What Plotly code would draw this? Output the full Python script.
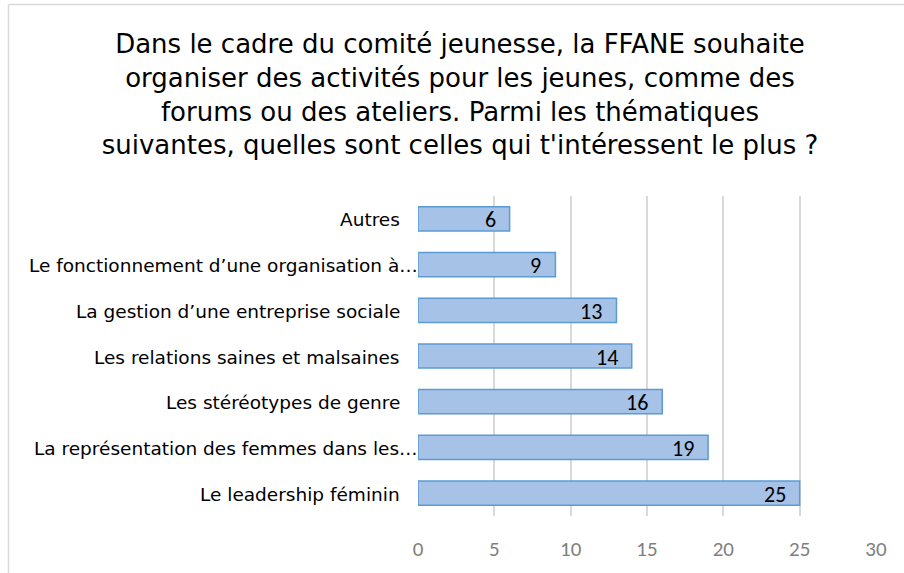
import plotly.graph_objects as go

categories = [
    "Le leadership féminin",
    "La représentation des femmes dans les…",
    "Les stéréotypes de genre",
    "Les relations saines et malsaines",
    "La gestion d’une entreprise sociale",
    "Le fonctionnement d’une organisation à…",
    "Autres",
]
values = [25, 19, 16, 14, 13, 9, 6]
truncated = [False, True, False, False, False, True, False]
x_ticks = [0, 5, 10, 15, 20, 25, 30]

title_text = ("Dans le cadre du comité jeunesse, la FFANE souhaite<br>"
              "organiser des activités pour les jeunes, comme des<br>"
              "forums ou des ateliers. Parmi les thématiques<br>"
              "suivantes, quelles sont celles qui t'intéressent le plus ?")

fig = go.Figure()
fig.add_trace(go.Bar(
    y=categories, x=values, orientation="h",
    marker=dict(color="#a6c2e7", line=dict(color="#5b9bd5", width=1.5)),
    hoverinfo="x+y",
))

annotations = []
for c, v, t in zip(categories, values, truncated):
    annotations.append(dict(
        x=0, y=c, xref="x", yref="y", text=c, showarrow=False,
        xanchor="right", yanchor="middle", xshift=(2 if t else -16), yshift=-1,
        font=dict(family="DejaVu Sans", size=18.5, color="#000000"),
    ))
    annotations.append(dict(
        x=v, y=c, xref="x", yref="y", text=str(v), showarrow=False,
        xanchor="right", yanchor="middle", xshift=-12, yshift=-1,
        font=dict(family="Carlito, Lato, sans-serif", size=22, color="#000000"),
    ))

border = dict(color="#d9d9d9", width=1.5)
fig.update_layout(
    width=904, height=573,
    margin=dict(l=418, r=28, t=196, b=57),
    paper_bgcolor="white", plot_bgcolor="white",
    showlegend=False,
    bargap=0.47,
    title=dict(text=title_text, xref="container", yref="container",
               x=460 / 904, y=1 - 53 / 573, xanchor="center", yanchor="top",
               font=dict(family="DejaVu Sans", size=26, color="#000000")),
    annotations=annotations,
    shapes=[
        dict(type="line", xref="paper", yref="paper",
             x0=(8.5 - 418) / 458, x1=(8.5 - 418) / 458,
             y0=-80 / 320, y1=1 + (196 - 4.5) / 320, line=border, layer="below"),
        dict(type="line", xref="paper", yref="paper",
             x0=(8.5 - 418) / 458, x1=1 + 50 / 458,
             y0=1 + (196 - 4.5) / 320, y1=1 + (196 - 4.5) / 320, line=border, layer="below"),
    ],
    xaxis=dict(range=[0, 30], tickvals=x_ticks, showgrid=True,
               gridcolor="#d9d9d9", gridwidth=1.5, zeroline=False,
               showline=False, ticks="",
               tickfont=dict(family="Carlito, Lato, sans-serif", size=21, color="#808080"),
               ticklabelstandoff=18, fixedrange=True),
    yaxis=dict(categoryorder="array", categoryarray=categories,
               showticklabels=False, showgrid=False, zeroline=False,
               showline=False, fixedrange=True),
)

fig.write_html("out.html", config={"displayModeBar": False},
               post_script="document.body.style.margin='0';")
